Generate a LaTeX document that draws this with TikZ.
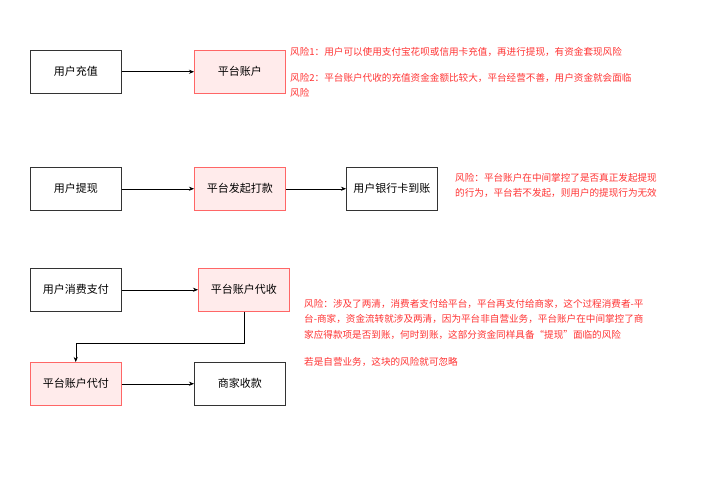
\documentclass[tikz,border=0pt]{standalone}
\usepackage{fontspec}
\setmainfont{Noto Sans CJK SC}
\usetikzlibrary{arrows.meta}
\begin{document}
\begin{tikzpicture}[x=1pt,y=-1pt,
  box/.style={draw=black!80,line width=0.5pt,minimum width=91pt,minimum height=43pt,inner sep=0pt,font=\fontsize{11}{13}\selectfont,anchor=north west},
  pbox/.style={box,draw=red!60,fill=red!8},
  risk/.style={text=red!80,font=\fontsize{9.6}{15.5}\selectfont,anchor=north west,align=left,inner sep=0pt},
  arr/.style={-{Stealth[length=5pt,width=4pt]},line width=0.5pt}]
\useasboundingbox (0,0) rectangle (707,500);
\node[box] (a) at (30,50) {用户充值};
\node[pbox] (b) at (194,50) {平台账户};
\node[box] (c) at (30,167) {用户提现};
\node[pbox] (d) at (194,167) {平台发起打款};
\node[box] (e) at (346,167) {用户银行卡到账};
\node[box] (f) at (30,268) {用户消费支付};
\node[pbox] (g) at (198,268) {平台账户代收};
\node[pbox] (h) at (30,362) {平台账户代付};
\node[box] (i) at (194,362) {商家收款};
\draw[arr] (a) -- (b);
\draw[arr] (c) -- (d);
\draw[arr] (d) -- (e);
\draw[arr] (f) -- (g);
\draw[arr] (h) -- (i);
\coordinate (k1) at (g.south |- 0,343);
\coordinate (k2) at (h.north |- 0,343);
\draw[arr] (g.south) -- (k1) -- (k2) -- (h.north);
\node[risk] (r1) at (290,47) {风险1：用户可以使用支付宝花呗或信用卡充值，再进行提现，有资金套现风险};
\node[risk] (r2) at (290,73) {风险2：平台账户代收的充值资金金额比较大，平台经营不善，用户资金就会面临\\风险};
\node[risk] (r3) at (455,173) {风险：平台账户在中间掌控了是否真正发起提现\\的行为，平台若不发起，则用户的提现行为无效};
\node[risk] (r4) at (304,299) {风险：涉及了两清，消费者支付给平台，平台再支付给商家，这个过程消费者-平\\台-商家，资金流转就涉及两清，因为平台非自营业务，平台账户在中间掌控了商\\家应得款项是否到账，何时到账，这部分资金同样具备“提现”面临的风险};
\node[risk] (r5) at (304,357) {若是自营业务，这块的风险就可忽略};
\end{tikzpicture}
\end{document}
